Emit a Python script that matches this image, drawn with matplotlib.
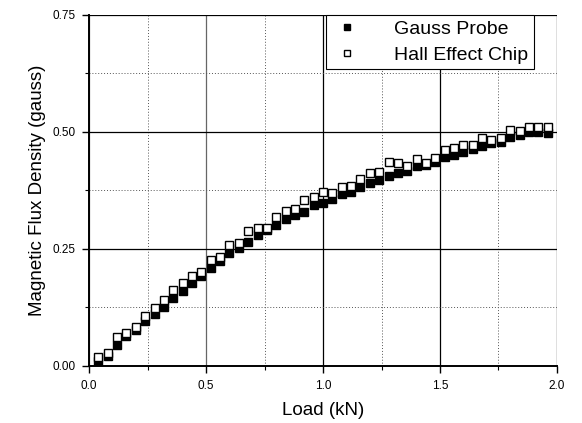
import numpy as np
import matplotlib
matplotlib.use("Agg")
import matplotlib.pyplot as plt
from matplotlib.ticker import MultipleLocator

plt.rcParams['font.family'] = ['Liberation Sans', 'DejaVu Sans']

# load (kN)
load = [0.04, 0.08, 0.12, 0.16, 0.20, 0.24, 0.28, 0.32, 0.36, 0.40,
        0.44, 0.48, 0.52, 0.56, 0.60, 0.64, 0.68, 0.72, 0.76, 0.80,
        0.84, 0.88, 0.92, 0.96, 1.00, 1.04, 1.08, 1.12, 1.16, 1.20,
        1.24, 1.28, 1.32, 1.36, 1.40, 1.44, 1.48, 1.52, 1.56, 1.60,
        1.64, 1.68, 1.72, 1.76, 1.80, 1.84, 1.88, 1.92, 1.96]

# gauss probe readings
gauss = [0.010, 0.022, 0.045, 0.064, 0.077, 0.096, 0.111, 0.126, 0.145, 0.160,
         0.177, 0.192, 0.210, 0.225, 0.241, 0.252, 0.265, 0.280, 0.290, 0.301,
         0.314, 0.323, 0.329, 0.344, 0.348, 0.357, 0.368, 0.372, 0.383, 0.391,
         0.397, 0.406, 0.412, 0.417, 0.427, 0.430, 0.436, 0.447, 0.451, 0.457,
         0.463, 0.470, 0.476, 0.479, 0.489, 0.494, 0.500, 0.500, 0.498]

# hall effect chip readings
hall = [0.020, 0.027, 0.062, 0.070, 0.083, 0.107, 0.124, 0.141, 0.162, 0.177,
        0.192, 0.200, 0.226, 0.233, 0.258, 0.263, 0.288, 0.295, 0.295, 0.318,
        0.331, 0.335, 0.355, 0.361, 0.372, 0.370, 0.382, 0.385, 0.400, 0.412,
        0.415, 0.436, 0.434, 0.427, 0.442, 0.434, 0.444, 0.462, 0.466, 0.472,
        0.472, 0.487, 0.483, 0.487, 0.504, 0.502, 0.510, 0.510, 0.510]

fig = plt.figure(figsize=(5.82, 4.23), dpi=100)
ax = fig.add_axes([0.153, 0.135, 0.804, 0.830])

ax.set_xlim(0, 2.0)
ax.set_ylim(0, 0.75)
ax.xaxis.set_major_locator(MultipleLocator(0.5))
ax.xaxis.set_minor_locator(MultipleLocator(0.25))
ax.yaxis.set_major_locator(MultipleLocator(0.25))
ax.yaxis.set_minor_locator(MultipleLocator(0.125))
ax.xaxis.set_major_formatter(matplotlib.ticker.FormatStrFormatter('%.1f'))
ax.yaxis.set_major_formatter(matplotlib.ticker.FormatStrFormatter('%.2f'))

#grid
ax.grid(which='major', color='black', linewidth=0.9, linestyle='-')
ax.grid(which='minor', color='#555555', linewidth=0.7, linestyle=(0, (1, 2)))
ax.set_axisbelow(True)
# no frame line along the top / right edge
ax.yaxis.get_gridlines()[-1].set_visible(False)
ax.xaxis.get_gridlines()[-1].set_visible(False)
xg = ax.xaxis.get_gridlines()
xg[1].set_color('#666666')
xg[2].set_color('#666666')

ax.spines['top'].set_visible(False)
ax.spines['right'].set_visible(False)
ax.spines['left'].set_linewidth(1.4)
ax.spines['bottom'].set_linewidth(1.4)
ax.tick_params(which='major', direction='out', length=5, width=1, labelsize=8.5, pad=5)
ax.tick_params(which='minor', direction='out', length=3, width=0.8)

ax.plot(load, gauss, 's', color='black', markersize=6.3, label='Gauss Probe',
        clip_on=False)
ax.plot(load, hall, 's', markerfacecolor='white', markeredgecolor='black',
        markeredgewidth=1.0, markersize=6.3, label='Hall Effect Chip', clip_on=False)

ax.set_xlabel('Load (kN)', fontsize=13.5, labelpad=7)
ax.set_ylabel('Magnetic Flux Density (gauss)', fontsize=13.5, labelpad=4)

leg = ax.legend(loc='upper right', bbox_to_anchor=(0.951, 1.0), borderaxespad=0,
                fontsize=14, frameon=True, fancybox=False, edgecolor='black',
                framealpha=1, handletextpad=1.65, borderpad=0.3, labelspacing=0.4,
                handlelength=1.55, markerscale=0.75)
leg.get_frame().set_linewidth(0.8)

plt.savefig('out.png', dpi=100)
